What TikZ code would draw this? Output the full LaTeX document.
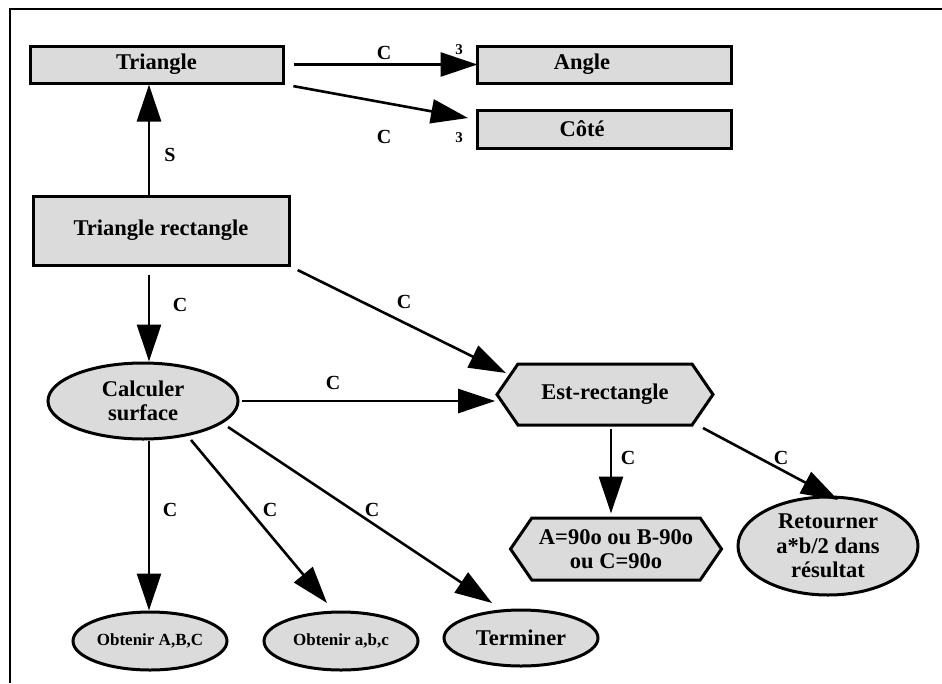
\documentclass[tikz,border=0pt]{standalone}
\usepackage{fontspec}
\setmainfont{Liberation Serif}
\usetikzlibrary{shapes.geometric,shapes.symbols,arrows.meta}

\begin{document}
\begin{tikzpicture}[x=1pt,y=-1pt,
        box/.style={draw,line width=3pt,fill=black!14,minimum height=37pt,font=\bfseries\fontsize{22.5}{24}\selectfont},
        oval/.style={draw,line width=3pt,fill=black!14,ellipse,inner sep=0pt,align=center,font=\bfseries\fontsize{22.5}{24.5}\selectfont},
        hexa/.style={draw,line width=3pt,fill=black!14,signal,signal to=west and east,signal pointer angle=111,inner sep=0pt,align=center,font=\bfseries\fontsize{22.5}{24}\selectfont},
        link/.style={line width=2.6pt,-{Triangle[length=37pt,width=24pt]}},
        lab/.style={font=\bfseries\fontsize{20}{22}\selectfont},
        small/.style={font=\bfseries\fontsize{15}{17}\selectfont}]
        \useasboundingbox (0,0) rectangle (942,683);
        \draw[line width=2.8pt] (10,683) -- (10,9) -- (942,9);
        \node[box,minimum width=253pt] (tri) at (156.5,64.5) {Triangle};
        \node[box,minimum width=254pt] (angle) at (604,64.5) {\hspace*{-44pt}Angle};
        \node[box,minimum width=254pt,minimum height=38pt] (cote) at (604,129) {\hspace*{-44pt}Côté};
        \node[box,minimum width=256pt,minimum height=69pt] (trirect) at (161,230.5) {Triangle rectangle};
        \node[oval,minimum width=190pt,minimum height=76pt] (calc) at (143,401) {Calculer\\surface};
        \node[hexa,minimum width=216pt,minimum height=61pt] (est) at (605,394.5) {Est-rectangle};
        \node[hexa,minimum width=211pt,minimum height=62pt] (cond) at (616,549) {A=90o ou B-90o\\ou C=90o};
        \node[oval,minimum width=180pt,minimum height=98pt] (ret) at (828,546) {Retourner\\a*b/2 dans\\résultat};
        \node[oval,minimum width=154pt,minimum height=58pt,font=\bfseries\fontsize{17}{19}\selectfont] (obt1) at (150,641) {Obtenir A,B,C};
        \node[oval,minimum width=154pt,minimum height=58pt,font=\bfseries\fontsize{17}{19}\selectfont] (obt2) at (341,641) {Obtenir a,b,c};
        \node[oval,minimum width=154pt,minimum height=56pt] (term) at (521,638) {Terminer};
        \coordinate (ax) at (149,0);
        \coordinate (ex) at (611,0);
        \coordinate (cotetip) at (468,118);
        \coordinate (esttip) at (506,373);
        \coordinate (s1) at (191,440);
        \coordinate (s2) at (228,427);
        \coordinate (obt2tip) at (327,603);
        \coordinate (termtip) at (492,603);
        \coordinate (e2) at (703,428);
        \coordinate (rettip) at (838,500);
        \draw[link,shorten <=9pt,shorten >=-2pt] (tri.east) -- (angle.west);
        \draw[link,shorten <=9pt] (tri.south east) -- (cotetip);
        \draw[link] (trirect.north-|ax) -- (tri.south-|ax);
        \draw[link,shorten <=8pt] (trirect.south-|ax) -- (calc.north-|ax);
        \draw[link,shorten <=8pt] (trirect.south east) -- (esttip);
        \draw[link,shorten <=2pt] (calc.east) -- (calc.east-|est.west);
        \draw[link] (calc.south-|ax) -- (obt1.north-|ax);
        \draw[link] (s1) -- (obt2tip);
        \draw[link] (s2) -- (termtip);
        \draw[link,shorten <=2pt,shorten >=3pt] (est.south-|ex) -- (cond.north-|ex);
        \draw[link] (e2) -- (rettip);
        \node[lab] (lc1) at (384,53) {C};
        \node[small] (n1) at (459,50) {3};
        \node[lab] (lc2) at (384,137) {C};
        \node[small] (n2) at (459,138) {3};
        \node[lab] (ls) at (170,155) {S};
        \node[lab] (lc3) at (180,305) {C};
        \node[lab] (lc4) at (404,302) {C};
        \node[lab] (lc5) at (333,383) {C};
        \node[lab] (lc6) at (170,510) {C};
        \node[lab] (lc7) at (270,510) {C};
        \node[lab] (lc8) at (372,510) {C};
        \node[lab] (lc9) at (628,458) {C};
        \node[lab] (lc10) at (781,458) {C};
    \end{tikzpicture}
\end{document}
